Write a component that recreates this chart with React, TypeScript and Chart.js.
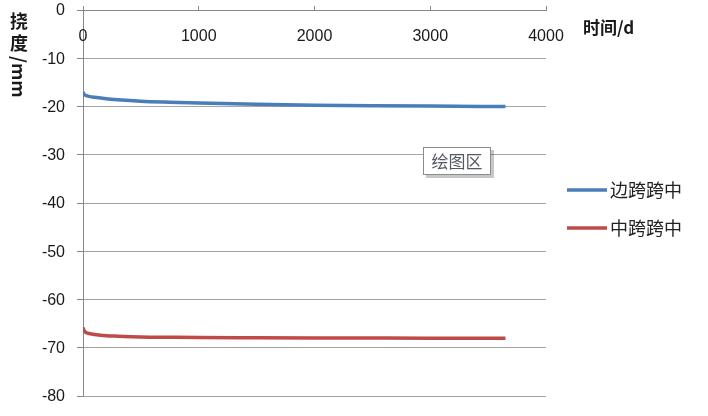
import { useEffect, useRef } from "react";
import { Chart, registerables } from "chart.js";

Chart.register(...registerables);

// ---- data ----
const days = [0, 10, 30, 60, 100, 200, 300, 500, 750, 1000, 1500, 2000, 2500, 3000, 3650];
const sideSpan = [-17.0, -17.5, -17.75, -17.95, -18.1, -18.4, -18.6, -18.9, -19.12, -19.3, -19.55, -19.72, -19.84, -19.92, -20.0];
const midSpan = [-65.8, -66.5, -66.9, -67.1, -67.25, -67.5, -67.6, -67.75, -67.82, -67.88, -67.93, -67.97, -68.0, -68.02, -68.04];
const seriesNames = ["边跨跨中", "中跨跨中"];
const seriesColors = ["#4A7EBB", "#BE4B48"];
const xTicks = [0, 1000, 2000, 3000, 4000];
const yTicks = [0, -10, -20, -30, -40, -50, -60, -70, -80];
const xTitle = "时间/d";
const yTitleUpright = ["挠", "度"];
const yTitleRotated = "/mm";
const plotLabel = "绘图区";

const LATIN = "'Liberation Sans', Arial, sans-serif";
const CJK = "'Noto Sans CJK SC', 'Noto Sans', sans-serif";

const decor = {
  id: "decor",
  afterDraw(chart: any) {
    const ctx = chart.ctx as CanvasRenderingContext2D;
    const { top, left, right } = chart.chartArea;
    const xs = chart.scales.x;
    const ys = chart.scales.y;
    ctx.save();

    // x tick labels (below the top axis line)
    ctx.font = `16px ${LATIN}`;
    ctx.fillStyle = "#1a1a1a";
    ctx.textAlign = "center";
    ctx.textBaseline = "middle";
    xTicks.forEach((v) => ctx.fillText(String(v), xs.getPixelForValue(v), top + 27));

    // y tick labels
    ctx.textAlign = "right";
    yTicks.forEach((v) => ctx.fillText(String(v), left - 18, ys.getPixelForValue(v) + 1));

    // x title
    ctx.font = `bold 17px ${CJK}`;
    ctx.textAlign = "left";
    ctx.fillStyle = "#1a1a1a";
    ctx.fillText(xTitle, right + 37, top + 18);

    // y title (vertical, CJK upright, latin rotated)
    ctx.font = `bold 18px ${CJK}`;
    ctx.textAlign = "center";
    yTitleUpright.forEach((c, i) => ctx.fillText(c, 19, 21 + i * 22));
    ctx.save();
    ctx.translate(19, 21 + yTitleUpright.length * 22 - 9);
    ctx.rotate(Math.PI / 2);
    ctx.textAlign = "left";
    ctx.fillText(yTitleRotated, 0, 0);
    ctx.restore();

    // legend
    const lx = right + 21;
    const ly = [190, 228];
    chart.data.datasets.forEach((ds: any, i: number) => {
      ctx.strokeStyle = ds.borderColor;
      ctx.lineWidth = 3.5;
      ctx.lineCap = "butt";
      ctx.beginPath();
      ctx.moveTo(lx, ly[i]);
      ctx.lineTo(lx + 40, ly[i]);
      ctx.stroke();
      ctx.font = `18px ${CJK}`;
      ctx.fillStyle = "#222";
      ctx.textAlign = "left";
      ctx.textBaseline = "middle";
      ctx.fillText(ds.label, lx + 43, ly[i]);
    });

    // "plot area" tooltip box
    const bx = 423, by = 147, bw = 68, bh = 28;
    ctx.fillStyle = "rgba(0,0,0,0.22)";
    ctx.fillRect(bx + 3, by + 3, bw, bh);
    ctx.fillStyle = "#fff";
    ctx.fillRect(bx, by, bw, bh);
    ctx.strokeStyle = "#8c8c8c";
    ctx.lineWidth = 1;
    ctx.strokeRect(bx + 0.5, by + 0.5, bw - 1, bh - 1);
    ctx.font = `17px ${CJK}`;
    ctx.fillStyle = "#555a60";
    ctx.textAlign = "center";
    ctx.textBaseline = "middle";
    ctx.fillText(plotLabel, bx + bw / 2, by + bh / 2 + 1);

    ctx.restore();
  },
};

export default function App() {
  const ref = useRef<HTMLCanvasElement>(null);
  useEffect(() => {
    if (!ref.current) return;
    const chart = new Chart(ref.current, {
      type: "line",
      data: {
        datasets: [
          {
            label: seriesNames[0],
            data: days.map((d, i) => ({ x: d, y: sideSpan[i] })),
            borderColor: seriesColors[0],
            borderWidth: 3.5,
            pointRadius: 0,
            cubicInterpolationMode: "monotone",
            fill: false,
          },
          {
            label: seriesNames[1],
            data: days.map((d, i) => ({ x: d, y: midSpan[i] })),
            borderColor: seriesColors[1],
            borderWidth: 3.5,
            pointRadius: 0,
            cubicInterpolationMode: "monotone",
            fill: false,
          },
        ],
      },
      options: {
        animation: false,
        responsive: false,
        layout: { padding: { left: 0, top: 0, right: 162, bottom: 20 } },
        plugins: { legend: { display: false }, tooltip: { enabled: false } },
        scales: {
          x: {
            type: "linear",
            position: "top",
            min: 0,
            max: 4000,
            ticks: { display: false, stepSize: 1000 },
            grid: { drawOnChartArea: false, drawTicks: true, tickLength: 4, color: "#888" },
            border: { color: "#888", width: 1 },
            afterFit: (s: any) => {
              s.height = 10;
            },
          },
          y: {
            type: "linear",
            min: -80,
            max: 0,
            ticks: { display: false, stepSize: 10 },
            grid: { color: "#a6a6a6", tickLength: 6, tickColor: "#888" },
            border: { color: "#888", width: 1 },
            afterFit: (s: any) => {
              s.width = 83;
            },
          },
        },
      },
      plugins: [decor],
    } as any);
    return () => chart.destroy();
  }, []);
  return (
    <div style={{ position: "absolute", left: 0, top: 0, width: 708, height: 416, background: "#fff" }}>
      <canvas ref={ref} width={708} height={416} style={{ display: "block" }} />
    </div>
  );
}
